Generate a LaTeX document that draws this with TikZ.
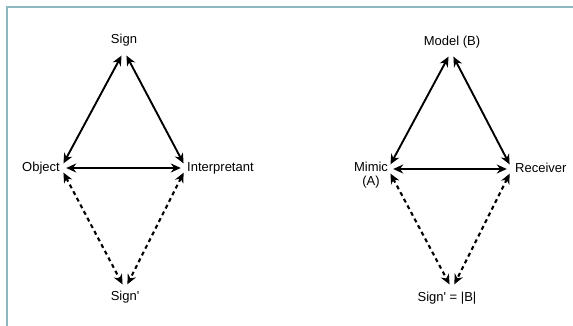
\documentclass[tikz,border=0pt]{standalone}
\usepackage{fontspec}
\setmainfont{Liberation Sans}
\usetikzlibrary{arrows.meta}
\definecolor{framecol}{RGB}{140,184,190}
\tikzset{every picture/.style={x=1pt,y=-1pt}}
\tikzset{vertex/.style={circle,inner sep=0pt,minimum size=10pt}}
\tikzset{edge/.style={{Stealth[length=10pt,width=9pt]}-{Stealth[length=10pt,width=9pt]},line width=1.9pt}}
\tikzset{dedge/.style={edge,line width=2.1pt,dash pattern=on 4pt off 3.5pt}}
\tikzset{annot/.style={inner sep=1pt,font=\fontsize{13}{14}\selectfont}}
\begin{document}
\begin{tikzpicture}
\useasboundingbox (0,0) rectangle (573,326);
\draw [framecol,line width=1.5pt] (7,326) -- (7,7) -- (573,7);
\node [vertex] (sign) at (124,51) {};
\node [vertex] (obj) at (61,168) {};
\node [vertex] (interp) at (186,168) {};
\node [vertex] (sign2) at (125,289) {};
\draw [edge] (obj) -- (sign);
\draw [edge] (interp) -- (sign);
\draw [edge] (obj) -- (interp);
\draw [dedge] (obj) -- (sign2);
\draw [dedge] (interp) -- (sign2);
\node [annot] (signlbl) at (124,40) {Sign};
\node [annot,anchor=east] (objlbl) at (61,168) {Object};
\node [annot,anchor=west] (interplbl) at (186,168) {Interpretant};
\node [annot] (sign2lbl) at (125,297) {Sign\textquotesingle};
\node [vertex] (model) at (451,52) {};
\node [vertex] (mimic) at (388,169) {};
\node [vertex] (recv) at (512,169) {};
\node [vertex] (sign3) at (452,289) {};
\draw [edge] (mimic) -- (model);
\draw [edge] (recv) -- (model);
\draw [edge] (mimic) -- (recv);
\draw [dedge] (mimic) -- (sign3);
\draw [dedge] (recv) -- (sign3);
\node [annot] (modellbl) at (452,42) {Model (B)};
\node [annot,align=center] (mimiclbl) at (371,175) {Mimic\\(A)};
\node [annot,anchor=west] (recvlbl) at (514,168) {Receiver};
\node [annot] (sign3lbl) at (447,298) {Sign\textquotesingle{} = |B|};
\end{tikzpicture}
\end{document}
